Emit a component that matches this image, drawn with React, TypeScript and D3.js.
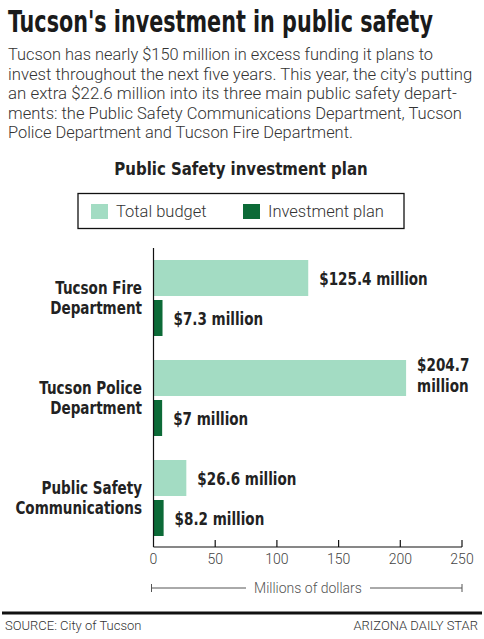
import React, { useLayoutEffect, useRef, useState } from "react";
import * as d3 from "d3";

const categories = ["Tucson Fire Department", "Tucson Police Department", "Public Safety Communications"];
const categoryLines = [["Tucson Fire", "Department"], ["Tucson Police", "Department"], ["Public Safety", "Communications"]];
const totalBudget = [125.4, 204.7, 26.6];
const investmentPlan = [7.3, 7, 8.2];
const totalLabels = [["$125.4 million"], ["$204.7", "million"], ["$26.6 million"]];
const investLabels = ["$7.3 million", "$7 million", "$8.2 million"];
const xTicks = [0, 50, 100, 150, 200, 250];
const seriesNames = ["Total budget", "Investment plan"];
const seriesColors = ["#a3dcc3", "#0c6a37"];

const titleText = "Tucson's investment in public safety";
const bodyLines = [
  "Tucson has nearly $150 million in excess funding it plans to",
  "invest throughout the next five years. This year, the city's putting",
  "an extra $22.6 million into its three main public safety depart-",
  "ments: the Public Safety Communications Department, Tucson",
  "Police Department and Tucson Fire Department.",
];
const bodyWidths = [425, 464, 449, 454, 345];

const COND = "'DejaVu Sans Condensed', 'Roboto', sans-serif";
const LIGHT = "Roboto, 'Open Sans', sans-serif";

function CText(props: { x: number; y: number; sx?: number; size?: number; anchor?: string; children: React.ReactNode; fill?: string }) {
  const { x, y, sx = 0.86, size = 17.5, anchor = "start", children, fill = "#222" } = props;
  return (
    <text transform={`translate(${x},${y}) scale(${sx},1)`} textAnchor={anchor} fontFamily={COND} fontWeight={700} fontSize={size} fill={fill}>
      {children}
    </text>
  );
}

function FitText(props: { x: number; y: number; width: number; size: number; family: string; weight: number; fill: string; children: string }) {
  const ref = useRef<SVGTextElement>(null);
  const [sx, setSx] = useState(0.75);
  useLayoutEffect(() => {
    if (ref.current) {
      const w = ref.current.getComputedTextLength();
      if (w > 0) setSx(props.width / w);
    }
  }, [props.width, props.children]);
  return (
    <text ref={ref} transform={`translate(${props.x},${props.y}) scale(${sx},1)`} fontFamily={props.family} fontWeight={props.weight} fontSize={props.size} fill={props.fill}>
      {props.children}
    </text>
  );
}

export default function App() {
  const W = 484, H = 639;
  const x = d3.scaleLinear().domain([0, 250]).range([153.5, 462]);
  const y = d3.scaleBand<string>().domain(categories).range([248, 548]).paddingInner(0.24).paddingOuter(0.12);
  const inner = d3.scaleBand<string>().domain(seriesNames).range([0, y.bandwidth()]).paddingInner(0.1);
  const axisY = 547;

  return (
    <svg width={W} height={H} style={{ position: "absolute", left: 0, top: 0, background: "#fff" }}>
      <rect width={W} height={H} fill="#fff" />
      <FitText x={8} y={32} width={425} size={31} family={COND} weight={700} fill="#1a1a1a">{titleText}</FitText>
      {bodyLines.map((l, i) => (
        <FitText key={i} x={8} y={60 + i * 19.6} width={bodyWidths[i]} size={17} family={LIGHT} weight={300} fill="#333">{l}</FitText>
      ))}
      <CText x={241} y={175} anchor="middle" size={18.5} sx={0.9}>Public Safety investment plan</CText>

      {/* legend */}
      <rect x={78} y={193.5} width={326} height={35} fill="none" stroke="#111" strokeWidth={1.3} />
      <rect x={91} y={204} width={17} height={15} fill={seriesColors[0]} />
      <text x={116} y={217} fontFamily={LIGHT} fontWeight={300} fontSize={16.5} fill="#333">{seriesNames[0]}</text>
      <rect x={243} y={204} width={17} height={15} fill={seriesColors[1]} />
      <text x={268} y={217} fontFamily={LIGHT} fontWeight={300} fontSize={16.5} fill="#333">{seriesNames[1]}</text>

      {/* bars */}
      {categories.map((c, i) => {
        const y0 = y(c)!;
        const yt = y0 + inner(seriesNames[0])!;
        const yi = y0 + inner(seriesNames[1])!;
        const bh = inner.bandwidth();
        const mid = y0 + y.bandwidth() / 2;
        return (
          <g key={c}>
            <rect x={x(0)} y={yt} width={x(totalBudget[i]) - x(0)} height={bh} fill={seriesColors[0]} />
            <rect x={x(0)} y={yi} width={x(investmentPlan[i]) - x(0)} height={bh} fill={seriesColors[1]} />
            {categoryLines[i].map((l, j) => (
              <CText key={j} x={142} y={mid - 4 + j * 20} anchor="end">{l}</CText>
            ))}
            {totalLabels[i].map((l, j) => (
              <CText key={j} x={x(totalBudget[i]) + 11} y={yt + bh / 2 + 7 - (totalLabels[i].length - 1) * 14 + j * 21}>{l}</CText>
            ))}
            <CText x={x(investmentPlan[i]) + 11} y={yi + bh / 2 + 7}>{investLabels[i]}</CText>
          </g>
        );
      })}

      {/* axis */}
      <line x1={x(0)} x2={x(0)} y1={248} y2={axisY} stroke="#111" strokeWidth={1.2} />
      <line x1={x(0)} x2={x(250)} y1={axisY} y2={axisY} stroke="#111" strokeWidth={1.2} />
      {xTicks.map((t) => (
        <g key={t}>
          {t > 0 && <line x1={x(t)} x2={x(t)} y1={axisY - 7} y2={axisY} stroke="#111" strokeWidth={1.2} />}
          <text x={x(t)} y={564} textAnchor="middle" fontFamily={LIGHT} fontWeight={300} fontSize={14} fill="#444">{t}</text>
        </g>
      ))}
      <line x1={x(0) - 2} x2={246} y1={588} y2={588} stroke="#555" strokeWidth={1} />
      <line x1={370} x2={x(250)} y1={588} y2={588} stroke="#555" strokeWidth={1} />
      <line x1={x(0) - 2} x2={x(0) - 2} y1={584} y2={592} stroke="#555" strokeWidth={1} />
      <line x1={x(250)} x2={x(250)} y1={584} y2={592} stroke="#555" strokeWidth={1} />
      <text x={308} y={593} textAnchor="middle" fontFamily={LIGHT} fontWeight={300} fontSize={14} fill="#555">Millions of dollars</text>

      <line x1={2} x2={482} y1={613} y2={613} stroke="#111" strokeWidth={3} />
      <text x={5} y={630} fontFamily={LIGHT} fontWeight={300} fontSize={13} fill="#333">SOURCE: City of Tucson</text>
      <text x={478} y={630} textAnchor="end" fontFamily={LIGHT} fontWeight={300} fontSize={13} fill="#333">ARIZONA DAILY STAR</text>
    </svg>
  );
}
